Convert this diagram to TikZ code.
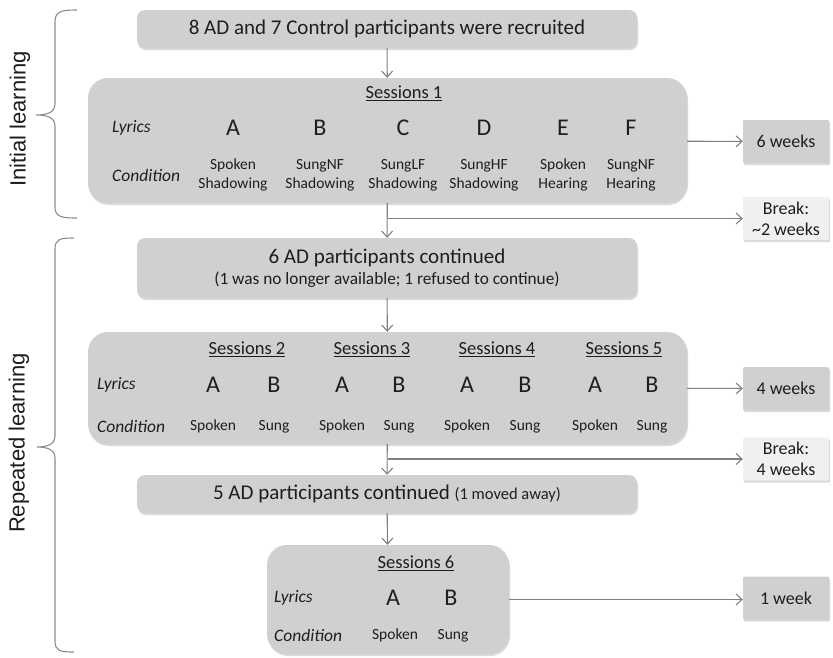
\documentclass[tikz,border=0pt]{standalone}
\usepackage{fontspec}
\setmainfont{Carlito}
\newfontfamily\sidefont{Liberation Sans}
\usetikzlibrary{arrows.meta,shadows}
\definecolor{boxgray}{RGB}{208,208,208}
\definecolor{breakgray}{RGB}{240,240,240}
\definecolor{linegray}{RGB}{128,128,128}
\definecolor{inkgray}{RGB}{30,30,30}

\begin{document}
\begin{tikzpicture}[x=1pt, y=-1pt, text=inkgray,
  flowbox/.style={rectangle, fill=boxgray, rounded corners=8pt, minimum width=500pt, inner sep=0pt, align=center,
    drop shadow={shadow xshift=1pt, shadow yshift=-2pt, opacity=0.3}},
  sessbox/.style={flowbox, rounded corners=20pt},
  weekbox/.style={flowbox, rounded corners=1pt, minimum width=86pt, minimum height=43pt, font=\fontsize{18}{21}\selectfont},
  breakbox/.style={weekbox, fill=breakgray},
  sesstitle/.style={font=\fontsize{18.5}{22}\selectfont, inner sep=0pt},
  rowlab/.style={anchor=west, font=\fontsize{17.5}{21}\selectfont\itshape, inner sep=0pt},
  lyric/.style={font=\fontsize{24}{28}\selectfont, inner sep=0pt},
  condtext/.style={align=center, font=\fontsize{15.5}{19}\selectfont, inner sep=0pt},
  condone/.style={condtext, text height=11pt, text depth=3pt},
  flow/.style={draw=linegray, line width=1.1pt, -{Straight Barb[length=6pt,width=11pt]}},
  bracepath/.style={draw=linegray!90, line width=1.1pt},
  sidelab/.style={rotate=90, font=\sidefont\fontsize{22}{26}\selectfont}]
\useasboundingbox (0,0) rectangle (833,657);

% side braces
\draw[bracepath] (77,10) .. controls (62,10) and (55,11) .. (55,22) -- (55,104)
  .. controls (55,113) and (46,115) .. (36,115) .. controls (46,115) and (55,117) .. (55,126)
  -- (55,207) .. controls (55,217) and (62,218) .. (77,218);
\draw[bracepath] (74,238) .. controls (60,238) and (55,239) .. (55,249) -- (55,436)
  .. controls (55,445) and (46,447) .. (37,447) .. controls (46,447) and (55,449) .. (55,458)
  -- (55,641) .. controls (55,651) and (60,652) .. (74,652);
\node[sidelab] (initlab) at (20,119) {Initial learning};
\node[sidelab] (replab) at (19,443) {Repeated learning};

% main flow
\node[flowbox, minimum height=38pt] (recruit) at (387,29) {\fontsize{21}{25}\selectfont 8 AD and 7 Control participants were recruited};

\node[sessbox, minimum width=599pt, minimum height=125pt] (sess1) at (387.5,140.5) {};
\node[sesstitle] (s1t) at (404,93) {\underline{Sessions 1}};
\node[rowlab] (s1lyr) at (112,128) {Lyrics};
\node[rowlab] (s1cond) at (112,175) {Condition};
\foreach \x/\l/\c [count=\i] in {233/A/{Spoken\\Shadowing}, 320/B/{SungNF\\Shadowing}, 403/C/{SungLF\\Shadowing},
    484/D/{SungHF\\Shadowing}, 563/E/{Spoken\\Hearing}, 631/F/{SungNF\\Hearing}} {
  \node[lyric] (s1l\i) at (\x,128) {\l};
  \node[condtext] (s1c\i) at (\x,175) {\c};
}

\node[flowbox, minimum height=60pt] (ad6) at (387,268)
  {\fontsize{21}{25}\selectfont 6 AD participants continued\\[4pt]
   \fontsize{17.3}{20}\selectfont (1 was no longer available; 1 refused to continue)};

\node[sessbox, minimum width=599pt, minimum height=112pt] (sess2) at (387.5,388) {};
\foreach \x/\n in {247/2, 372/3, 497/4, 624/5}
  \node[sesstitle] (s2t\n) at (\x,349) {\underline{Sessions \n}};
\node[rowlab] (s2lyr) at (97,385) {Lyrics};
\node[rowlab] (s2cond) at (97,426) {Condition};
\foreach \x/\l/\c [count=\i] in {213/A/Spoken, 274/B/Sung, 342/A/Spoken, 399/B/Sung,
    467/A/Spoken, 525/B/Sung, 595/A/Spoken, 652/B/Sung} {
  \node[lyric] (s2l\i) at (\x,385) {\l};
  \node[condone] (s2c\i) at (\x,426) {\c};
}

\node[flowbox, minimum height=38pt] (ad5) at (387,494)
  {\fontsize{21}{25}\selectfont 5 AD participants continued {\fontsize{16.5}{20}\selectfont (1 moved away)}};

\node[sessbox, minimum width=242pt, minimum height=109pt] (sess6) at (388,599.5) {};
\node[sesstitle] (s6t) at (416,563) {\underline{Sessions 6}};
\node[rowlab] (s6lyr) at (274,598) {Lyrics};
\node[rowlab] (s6cond) at (274,635) {Condition};
\node[lyric] (s6l1) at (393,598) {A};
\node[lyric] (s6l2) at (451,598) {B};
\node[condone] (s6c1) at (395,635) {Spoken};
\node[condone] (s6c2) at (453,635) {Sung};

% durations
\node[weekbox] (wk6) at (786,141.5) {6 weeks};
\node[breakbox] (brk1) at (786,218.5) {Break:\\\textasciitilde2 weeks};
\node[weekbox] (wk4) at (786,388.5) {4 weeks};
\node[breakbox] (brk2) at (786,459) {Break:\\4 weeks};
\node[weekbox] (wk1) at (786,598) {1 week};

% connectors
\draw[flow] (recruit) -- (sess1);
\draw[flow] (sess1) -- (ad6);
\draw[flow] (ad6) -- (sess2);
\draw[flow] (sess2) -- (ad5);
\draw[flow] (ad5) -- (sess6);
\coordinate (split1) at (sess1.south |- brk1.west);
\coordinate (split2) at (sess2.south |- brk2.west);
\draw[flow] (split1) -- (brk1);
\draw[flow] (split2) -- (brk2);
\draw[flow] (sess1) -- (wk6);
\draw[flow] (sess2) -- (wk4);
\draw[flow] (sess6.east) -- (wk1.west |- sess6.east);
\end{tikzpicture}
\end{document}
